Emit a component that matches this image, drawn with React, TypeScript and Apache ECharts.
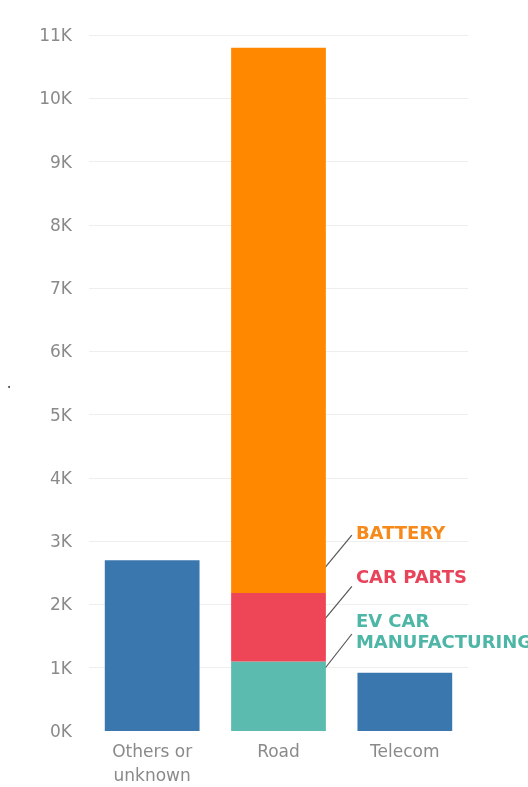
import React, { useEffect, useRef } from "react";
import * as echarts from "echarts";

const categories = ["Others or\nunknown", "Road", "Telecom"];
const otherValues = [2700, "-", 920];
const evCarValues = ["-", 1100, "-"];
const carPartsValues = ["-", 1080, "-"];
const batteryValues = ["-", 8620, "-"];
const yTicks = [0, 1000, 2000, 3000, 4000, 5000, 6000, 7000, 8000, 9000, 10000, 11000];

const BLUE = "#3a77ae";
const TEAL = "#5bbbae";
const RED = "#ee4657";
const ORANGE = "#ff8800";
const FONT = "DejaVu Sans";

export default function App() {
  const ref = useRef<HTMLDivElement>(null);
  useEffect(() => {
    if (!ref.current) return;
    const chart = echarts.init(ref.current, null, { renderer: "svg" });
    const barStyle = (c: string) => ({ color: c });
    chart.setOption({
      animation: false,
      grid: { left: 89, right: 60, top: 35, bottom: 50, containLabel: false },
      xAxis: {
        type: "category",
        data: categories,
        axisLine: { show: false },
        axisTick: { show: false },
        axisLabel: { color: "#8a8a8a", fontFamily: FONT, fontSize: 17, lineHeight: 24, margin: 8 },
      },
      yAxis: {
        type: "value",
        min: yTicks[0],
        max: yTicks[yTicks.length - 1],
        interval: 1000,
        axisLine: { show: false },
        axisTick: { show: false },
        splitLine: { showMinLine: false, lineStyle: { color: "#eeeeee", width: 1 } },
        axisLabel: {
          color: "#8a8a8a",
          fontFamily: FONT,
          fontSize: 17,
          margin: 17,
          formatter: (v: number) => `${v / 1000}K`,
        },
      },
      series: [
        { name: "Others", type: "bar", stack: "s", barWidth: "75%", data: otherValues, itemStyle: barStyle(BLUE) },
        { name: "EV car manufacturing", type: "bar", stack: "s", data: evCarValues, itemStyle: barStyle(TEAL) },
        { name: "Car parts", type: "bar", stack: "s", data: carPartsValues, itemStyle: barStyle(RED) },
        { name: "Battery", type: "bar", stack: "s", data: batteryValues, itemStyle: barStyle(ORANGE) },
      ],
    });

    const c0 = chart.convertToPixel({ gridIndex: 0 }, [0, 0]) as number[];
    const c1 = chart.convertToPixel({ gridIndex: 0 }, [1, 0]) as number[];
    const band = c1[0] - c0[0];
    const right = c1[0] + (band * 0.75) / 2;
    const y0 = c1[1];
    const yEv = (chart.convertToPixel({ gridIndex: 0 }, [1, evCarValues[1] as number]) as number[])[1];
    const yParts = (chart.convertToPixel({ gridIndex: 0 }, [1, (evCarValues[1] as number) + (carPartsValues[1] as number)]) as number[])[1];
    const lineStyle = { stroke: "#555", lineWidth: 1.2 };
    const tx = right + 30;
    chart.setOption({
      graphic: [
        { type: "line", shape: { x1: right - 3, y1: yParts - 23, x2: right + 26, y2: yParts - 58 }, style: lineStyle },
        { type: "line", shape: { x1: right - 3, y1: yEv - 40, x2: right + 26, y2: yEv - 75 }, style: lineStyle },
        { type: "line", shape: { x1: right - 3, y1: y0 - 60, x2: right + 26, y2: y0 - 97 }, style: lineStyle },
        {
          type: "text", x: tx, y: yParts - 61,
          style: { text: "BATTERY", fill: "#f7891a", font: `bold 18px '${FONT}'`, verticalAlign: "middle" },
        },
        {
          type: "text", x: tx, y: yEv - 85,
          style: { text: "CAR PARTS", fill: "#e8435a", font: `bold 18px '${FONT}'`, verticalAlign: "middle" },
        },
        {
          type: "text", x: tx, y: y0 - 121,
          style: { text: "EV CAR\nMANUFACTURING", fill: "#4db6a6", font: `bold 18px '${FONT}'`, lineHeight: 21, verticalAlign: "top" },
        },
        { type: "circle", shape: { cx: 9, cy: 387, r: 1 }, style: { fill: "#444" } },
      ],
    });
    return () => chart.dispose();
  }, []);
  return <div ref={ref} style={{ position: "fixed", left: 0, top: 0, width: 528, height: 787 }} />;
}
